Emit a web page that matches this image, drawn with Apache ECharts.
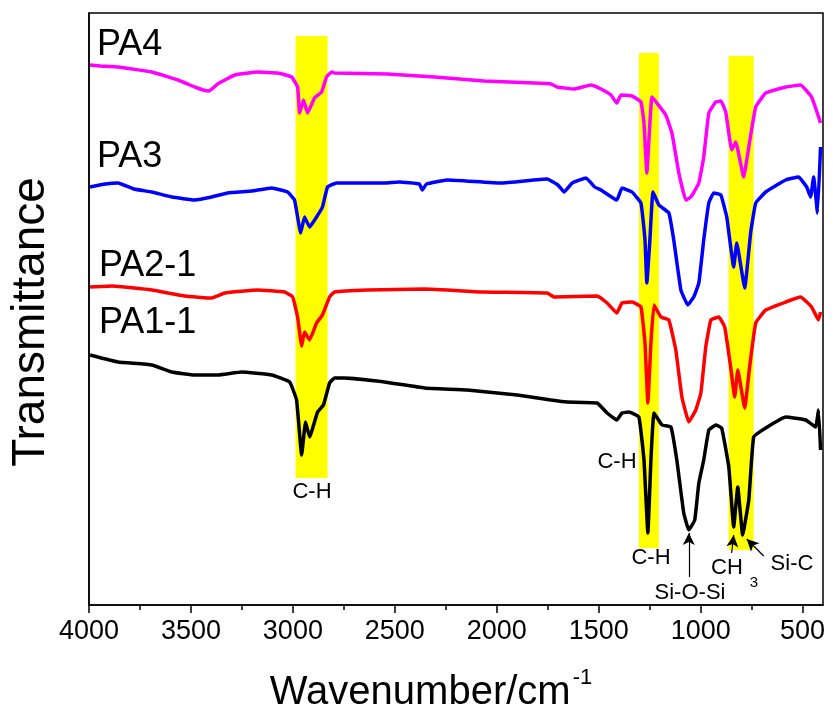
<!DOCTYPE html>
<html>
<head>
<meta charset="utf-8">
<script src="https://cdn.jsdelivr.net/npm/echarts@6.0.0/dist/echarts.min.js"></script>
<style>
  html, body { margin: 0; padding: 0; background: #fff; }
  #ftir { width: 833px; height: 720px; }
</style>
</head>
<body>
<div id="ftir"></div>
<script>
// tick labels of the wavenumber axis
const xTickLabels = [4000, 3500, 3000, 2500, 2000, 1500, 1000, 500];
const xMinorTicks = [3750, 3250, 2750, 2250, 1750, 1250, 750];

// spectra, [wavenumber, transmittance (a.u., offset)]
const pa4 = [[3995,540],[3946,539],[3858,538],[3692,533],[3564,525],[3481,518],[3440,515],[3410,514],[3369,521],[3285,530],[3173,533],[3075,532],[3006,528],[2977,518],[2967,492],[2948,505],[2928,492],[2894,507],[2859,513],[2835,528],[2810,533],[2796,532],[2536,531],[2306,528],[2062,524],[1817,522],[1734,521],[1704,518],[1621,516],[1538,520],[1489,516],[1440,510],[1411,502],[1391,510],[1337,509],[1293,503],[1278,482],[1264,432],[1249,482],[1239,508],[1215,502],[1171,490],[1141,472],[1107,432],[1073,405],[1048,408],[1009,422],[985,448],[960,492],[926,503],[901,504],[877,493],[848,455],[828,463],[789,428],[764,458],[730,498],[681,512],[583,518],[510,520],[456,508],[412,482]];
const pa3 = [[3995,418],[3920,421],[3858,422],[3780,416],[3692,413],[3594,408],[3481,405],[3398,408],[3320,412],[3202,414],[3104,417],[3026,413],[2992,405],[2962,372],[2943,388],[2918,378],[2884,388],[2855,398],[2830,418],[2786,422],[2551,422],[2478,423],[2380,421],[2365,415],[2345,421],[2243,425],[1978,422],[1753,426],[1700,420],[1670,413],[1630,422],[1562,427],[1520,418],[1489,415],[1411,405],[1386,417],[1337,413],[1293,402],[1273,365],[1264,322],[1249,365],[1234,413],[1205,400],[1156,392],[1132,365],[1097,315],[1063,300],[1034,308],[1009,322],[985,365],[960,402],[936,412],[901,410],[872,388],[838,338],[823,362],[784,317],[755,372],[730,402],[681,413],[583,425],[520,428],[480,418],[461,408],[446,428],[427,392],[412,458]];
const pa21 = [[3995,318],[3887,319],[3692,315],[3530,309],[3398,307],[3334,312],[3173,315],[3041,313],[3001,308],[2977,288],[2957,259],[2943,273],[2918,265],[2884,282],[2855,290],[2820,308],[2796,313],[2634,315],[2355,316],[2062,313],[1753,312],[1719,308],[1508,309],[1459,302],[1411,292],[1386,302],[1337,303],[1293,298],[1273,262],[1259,202],[1244,262],[1229,300],[1195,288],[1156,285],[1122,255],[1092,208],[1058,183],[1024,195],[999,212],[975,258],[950,285],[911,288],[882,278],[853,238],[833,208],[818,235],[784,197],[760,238],[730,282],[681,295],[583,303],[510,308],[456,298],[422,285],[412,293]];
const pa11 = [[3995,250],[3858,243],[3692,240],[3594,233],[3481,230],[3369,230],[3251,233],[3104,230],[3016,223],[2982,205],[2957,150],[2938,183],[2918,168],[2879,193],[2850,200],[2820,222],[2796,227],[2747,227],[2551,223],[2355,217],[2145,215],[1900,210],[1734,205],[1655,203],[1508,202],[1459,192],[1411,185],[1386,192],[1352,193],[1303,188],[1278,145],[1259,72],[1244,145],[1229,192],[1190,180],[1146,178],[1117,145],[1083,92],[1058,75],[1029,85],[1009,122],[985,145],[960,175],[926,180],[897,177],[862,138],[838,78],[818,118],[794,70],[764,105],[740,168],[681,177],[583,188],[485,185],[436,178],[422,195],[412,155]];

// highlighted bands: [from, to, low, high]
const bands = [[2987, 2830, 127, 569], [1303, 1205, 57, 552], [863, 740, 55, 549]];
// arrows: [from, to]
const arrows = [
  [[1058, 28], [1058, 72]],
  [[848, 52], [838, 70]],
  [[691, 49], [774, 66]]
];

var FONT = 'Arial, "Liberation Sans", sans-serif';
var myChart = echarts.init(document.getElementById('ftir'));

function lineSeries(name, data, color) {
  return {
    name: name,
    type: 'line',
    data: data,
    showSymbol: false,
    smooth: 0.1,
    lineStyle: { color: color, width: 3.5 },
    z: 3
  };
}

function txt(text, x, y, size, align) {
  return {
    type: 'text',
    x: x, y: y,
    style: { text: text, font: size + 'px ' + FONT, fill: '#000', align: align || 'center', verticalAlign: 'middle' },
    z: 10
  };
}

var option = {
  animation: false,
  grid: {
    left: 89, right: 10, top: 13, bottom: 115,
    containLabel: false, outerBoundsMode: 'none',
    show: true, borderColor: '#000', borderWidth: 1.5, backgroundColor: 'transparent'
  },
  xAxis: [
    {
      type: 'value', inverse: true, min: 400, max: 4000,
      name: '{a|Wavenumber/cm}{b|-1}',
      nameLocation: 'middle', nameGap: 62,
      nameTextStyle: {
        padding: [0, 50, 0, 0],
        rich: {
          a: { fontSize: 40, fontFamily: FONT, color: '#000' },
          b: { fontSize: 22, fontFamily: FONT, color: '#000', verticalAlign: 'top', padding: [0, 0, 30, 2] }
        }
      },
      axisLine: { show: true, lineStyle: { color: '#000', width: 1.5 } },
      axisTick: { show: true, customValues: xTickLabels, length: 8, lineStyle: { color: '#000', width: 1.5 } },
      axisLabel: {
        customValues: xTickLabels, fontSize: 27, fontFamily: FONT, color: '#000', margin: 13,
        formatter: function (v) { return String(v); }
      },
      splitLine: { show: false }
    },
    {
      type: 'value', inverse: true, min: 400, max: 4000, position: 'bottom',
      axisLine: { show: false },
      axisTick: { show: true, customValues: xMinorTicks, length: 5, lineStyle: { color: '#000', width: 1.5 } },
      axisLabel: { show: false },
      splitLine: { show: false }
    }
  ],
  yAxis: {
    type: 'value', min: 0, max: 592,
    name: 'Transmittance', nameLocation: 'middle', nameGap: 35, nameRotate: 90,
    nameTextStyle: { fontSize: 46, fontFamily: FONT, color: '#000', padding: [0, 26, 0, 0] },
    axisLine: { show: true, lineStyle: { color: '#000', width: 1.5 } },
    axisTick: { show: false },
    axisLabel: { show: false },
    splitLine: { show: false }
  },
  series: [
    {
      name: 'bands', type: 'line', data: [], z: 1,
      markArea: {
        silent: true,
        itemStyle: { color: '#ffff00', opacity: 1 },
        data: bands.map(function (b) { return [{ coord: [b[0], b[2]] }, { coord: [b[1], b[3]] }]; })
      },
      markLine: {
        silent: true,
        symbol: ['none', 'arrow'],
        symbolSize: [9, 12],
        label: { show: false },
        lineStyle: { color: '#000', width: 1.2, type: 'solid' },
        data: arrows.map(function (a) { return [{ coord: a[0] }, { coord: a[1] }]; })
      }
    },
    lineSeries('PA4', pa4, '#ff00ff'),
    lineSeries('PA3', pa3, '#0000ff'),
    lineSeries('PA2-1', pa21, '#ff0000'),
    lineSeries('PA1-1', pa11, '#000000')
  ],
  graphic: [
    txt('PA4', 97, 45, 36, 'left'),
    txt('PA3', 97, 157, 36, 'left'),
    txt('PA2-1', 99, 266, 36, 'left'),
    txt('PA1-1', 99, 323, 36, 'left'),
    txt('C-H', 312, 492, 22),
    txt('C-H', 617, 462, 22),
    txt('C-H', 651, 558, 22),
    txt('Si-O-Si', 690, 593, 22),
    txt('CH', 727, 568, 22),
    txt('3', 754, 583, 15),
    txt('Si-C', 792, 564, 22)
  ]
};
option && myChart.setOption(option);
</script>
</body>
</html>
